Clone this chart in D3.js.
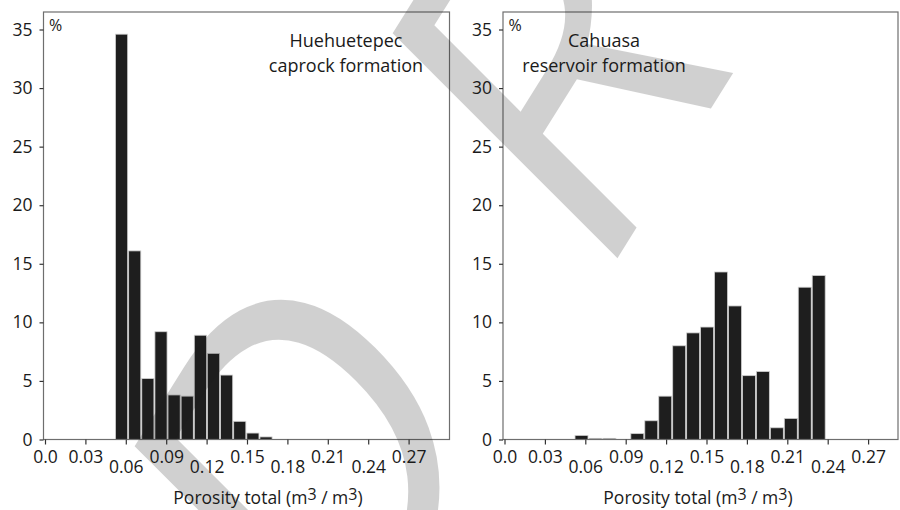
<!DOCTYPE html>
<html>
<head>
<meta charset="utf-8">
<script src="https://d3js.org/d3.v7.min.js"></script>
<style>
  body { margin: 0; background: #fff; }
  text { font-family: "Open Sans", sans-serif; fill: #1a1a1a; }
</style>
</head>
<body>
<svg width="900" height="510"></svg>
<script>
// porosity histograms, share of samples in % per bin
var capBinLo = 0.052, capBinHi = 0.169;
var capPct = [34.6, 16.1, 5.2, 9.2, 3.8, 3.7, 8.9, 7.35, 5.5, 1.55, 0.55, 0.22];
var resBinLo = 0.052, resBinHi = 0.2385;
var resPct = [0.35, 0.1, 0.1, 0, 0.5, 1.6, 3.7, 8.0, 9.1, 9.6, 14.3, 11.4, 5.45, 5.8, 1.0, 1.8, 13.0, 14.0];
var xTicks = [0, 0.03, 0.06, 0.09, 0.12, 0.15, 0.18, 0.21, 0.24, 0.27];
var xTickLabels = ["0.0", "0.03", "0.06", "0.09", "0.12", "0.15", "0.18", "0.21", "0.24", "0.27"];
var yTicks = [0, 5, 10, 15, 20, 25, 30, 35];
var capTitle = ["Huehuetepec", "caprock formation"];
var resTitle = ["Cahuasa", "reservoir formation"];

var svg = d3.select("svg");
var y = d3.scaleLinear().domain([0, 35]).range([439.5, 29.5]);
var frameTop = 12;

function panel(o) {
  var x = d3.scaleLinear().domain([0, 0.3]).range([o.x0, o.x0 + 404]);
  var g = svg.append("g");
  var w = (o.hi - o.lo) / o.vals.length;

  g.selectAll("rect.bar").data(o.vals).enter().append("rect")
    .attr("class", "bar")
    .attr("x", (d, i) => x(o.lo + i * w) + 0.5)
    .attr("width", (d, i) => x(o.lo + (i + 1) * w) - x(o.lo + i * w) - 1)
    .attr("y", d => y(d))
    .attr("height", d => y(0) - y(d))
    .attr("fill", "#1e1e1e")
    .attr("stroke", "#cfcfcf")
    .attr("stroke-width", 0.8)
    .style("display", d => d > 0 ? null : "none");

  // frame
  g.append("rect")
    .attr("x", o.x0 - 1.5).attr("y", frameTop)
    .attr("width", o.right - o.x0 + 1.5).attr("height", y(0) - frameTop)
    .attr("fill", "none").attr("stroke", "#6e6e6e").attr("stroke-width", 1.2);

  var ya = g.append("g").attr("transform", "translate(" + (o.x0 - 1.5) + ",0)")
    .call(d3.axisLeft(y).tickValues(yTicks).tickSize(4).tickPadding(7));
  ya.select(".domain").remove();
  ya.selectAll("line").attr("stroke", "#333").attr("stroke-width", 1.2);
  ya.selectAll("text").attr("font-size", 17.5).attr("font-family", null).attr("fill", "#1a1a1a");

  var xa = g.append("g").attr("transform", "translate(0," + y(0) + ")")
    .call(d3.axisBottom(x).tickValues(xTicks).tickSize(5)
      .tickFormat((d, i) => xTickLabels[i]));
  xa.select(".domain").remove();
  xa.selectAll("line").attr("stroke", "#333").attr("stroke-width", 1.2);
  xa.selectAll("text").attr("font-size", 17.5).attr("font-family", null).attr("fill", "#1a1a1a")
    .attr("dy", 0)
    .attr("y", (d, i) => (i % 2 === 0 && i > 0) ? 33 : 23);

  g.append("text").attr("x", o.x0 + 4).attr("y", 31).attr("font-size", 16).text("%");

  g.selectAll("text.ttl").data(o.title).enter().append("text")
    .attr("class", "ttl")
    .attr("x", o.titleX).attr("y", (d, i) => 46.5 + i * 25)
    .attr("text-anchor", "middle").attr("font-size", 18)
    .text(d => d);

  var xt = g.append("text").attr("x", o.axisX).attr("y", 504)
    .attr("text-anchor", "middle").attr("font-size", 17.5);
  xt.append("tspan").text("Porosity total (m");
  xt.append("tspan").attr("dy", -4).attr("font-size", 16).text("3");
  xt.append("tspan").attr("dy", 4).text(" / m");
  xt.append("tspan").attr("dy", -4).attr("font-size", 16).text("3");
  xt.append("tspan").attr("dy", 4).text(")");
}

panel({x0: 45, right: 449.5, lo: capBinLo, hi: capBinHi, vals: capPct,
       title: capTitle, titleX: 346, axisX: 268});
panel({x0: 504.5, right: 898, lo: resBinLo, hi: resBinHi, vals: resPct,
       title: resTitle, titleX: 604, axisX: 698});

// watermark
svg.append("text")
  .attr("transform", "translate(337,707) rotate(-58) skewX(-13)")
  .attr("font-size", 434)
  .attr("letter-spacing", 172)
  .attr("fill", "#585858")
  .attr("opacity", 0.2)
  .text("DRAFT");
</script>
</body>
</html>
